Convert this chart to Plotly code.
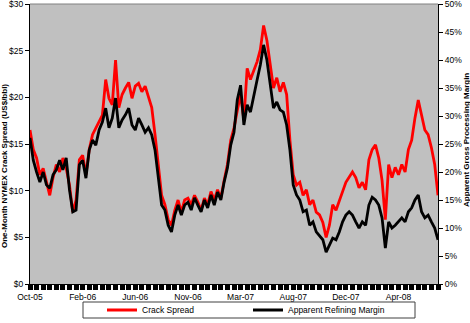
import plotly.graph_objects as go

# Category labels shown along the time axis (one every 16 observations)
month_labels = ["Oct-05", "Feb-06", "Jun-06", "Nov-06", "Mar-07", "Aug-07", "Dec-07", "Apr-08"]
label_positions = [0, 16, 32, 48, 64, 80, 96, 112]

# One-month NYMEX crack spread, US$/bbl
crack_spread = [
    16.5, 14.4, 13.5, 11.7, 12.4, 11.1, 9.5, 11.4, 12.8, 12.0,
    13.5, 12.4, 10.6, 7.7, 9.0, 13.3, 13.8, 11.7, 14.4, 16.0,
    16.7, 17.4, 18.1, 21.9, 19.9, 19.2, 24.0, 18.9, 20.3, 21.0,
    21.6, 19.9, 21.2, 21.5, 20.6, 21.2, 19.9, 18.9, 16.0, 12.8,
    9.5, 8.5, 6.9, 6.3, 7.9, 9.0, 7.7, 9.0, 9.2, 8.5,
    9.5, 8.8, 7.9, 9.2, 8.5, 9.9, 9.0, 10.1, 9.2, 11.1,
    12.8, 15.4, 16.7, 18.6, 20.3, 17.6, 23.1, 21.9, 22.9, 23.8,
    25.1, 27.7, 26.1, 23.5, 21.0, 22.1, 20.6, 21.6, 20.3, 15.4,
    11.7, 10.6, 10.9, 9.5, 10.1, 8.5, 9.0, 7.7, 7.4, 6.6,
    5.0, 6.3, 8.5, 7.9, 9.0, 9.9, 10.9, 11.4, 12.0, 11.4,
    10.3, 10.9, 10.1, 13.3, 14.4, 14.9, 13.5, 11.1, 6.9, 12.8,
    11.4, 12.5, 11.7, 12.8, 12.0, 14.4, 15.4, 17.8, 19.7, 18.1,
    16.5, 16.0, 14.6, 12.8, 9.5,
]

# Apparent refining (gross processing) margin, percent
refining_margin = [
    26.1, 22.1, 20.0, 18.2, 20.0, 17.7, 17.1, 19.5, 20.4, 22.1,
    20.4, 22.5, 16.8, 12.9, 13.2, 21.3, 22.1, 18.9, 23.9, 25.7,
    24.8, 27.5, 28.9, 31.4, 27.9, 29.6, 33.2, 27.9, 29.3, 30.2,
    31.4, 28.4, 27.5, 29.6, 28.4, 27.1, 27.9, 26.6, 23.9, 19.5,
    14.1, 13.2, 10.5, 9.3, 12.3, 14.1, 12.3, 14.1, 14.6, 13.2,
    15.4, 14.1, 12.9, 15.0, 13.6, 15.9, 14.1, 16.4, 15.0, 18.2,
    20.7, 24.8, 27.1, 32.9, 35.5, 28.4, 32.0, 30.7, 33.8, 36.4,
    39.1, 42.7, 40.0, 36.1, 31.4, 32.5, 31.1, 30.7, 28.4, 23.9,
    17.7, 15.9, 15.0, 12.9, 13.2, 10.5, 11.1, 9.3, 8.6, 7.9,
    5.7, 7.0, 8.2, 7.9, 9.3, 11.1, 12.3, 12.9, 12.3, 11.1,
    10.0, 11.1, 10.5, 14.1, 15.5, 15.0, 14.1, 11.8, 6.4, 11.1,
    10.0, 10.5, 11.1, 11.8, 11.1, 12.9, 13.6, 15.0, 15.9, 12.9,
    11.8, 12.3, 11.1, 10.0, 7.9,
]

x = list(range(len(crack_spread)))

fig = go.Figure()
fig.add_trace(go.Scatter(
    x=x, y=crack_spread, name="Crack Spread", mode="lines",
    line=dict(color="#FF0000", width=2.8), yaxis="y",
))
fig.add_trace(go.Scatter(
    x=x, y=refining_margin, name="Apparent Refining Margin", mode="lines",
    line=dict(color="#000000", width=2.8), yaxis="y2",
))

FONT = "Liberation Sans, Arial, sans-serif"

fig.update_layout(
    width=470, height=323,
    margin=dict(l=30, r=32, t=4, b=39, autoexpand=False),
    paper_bgcolor="white",
    plot_bgcolor="#C0C0C0",
    font=dict(family=FONT, size=8.5, color="black"),
    xaxis=dict(
        range=[0, 124],
        tickmode="array", tickvals=label_positions, ticktext=month_labels,
        ticks="outside", ticklen=5, tickwidth=5, tickcolor="black",
        minor=dict(tickmode="linear", tick0=0, dtick=2, ticks="outside",
                   ticklen=5, tickwidth=5, tickcolor="black", showgrid=False),
        showgrid=False, zeroline=False,
        showline=True, linecolor="black", linewidth=1,
        ticklabeloverflow="allow", automargin=False,
    ),
    yaxis=dict(
        range=[0, 30], dtick=5, tickprefix="$",
        ticks="outside", ticklen=4, tickcolor="black",
        showgrid=False, zeroline=False,
        showline=True, linecolor="black", linewidth=1,
        ticklabeloverflow="allow", automargin=False,
    ),
    yaxis2=dict(
        range=[0, 50], dtick=5, ticksuffix="%",
        overlaying="y", side="right",
        ticks="outside", ticklen=4, tickcolor="black",
        showgrid=False, zeroline=False,
        showline=True, linecolor="black", linewidth=1,
        ticklabeloverflow="allow", automargin=False,
    ),
    legend=dict(
        orientation="h",
        xref="container", yref="container",
        x=102 / 470, y=1 - 310 / 323,
        xanchor="left", yanchor="middle",
        bgcolor="rgba(0,0,0,0)", borderwidth=0,
        entrywidth=101,
        font=dict(family=FONT, size=8.5, color="black"),
    ),
    showlegend=True,
)

# Plot-area top border and legend frame
fig.add_shape(type="line", xref="paper", yref="paper",
              x0=0, x1=1, y0=1, y1=1, line=dict(color="#808080", width=1))
fig.add_shape(type="rect", xref="paper", yref="paper",
              x0=(83 - 30) / 408, x1=(415 - 30) / 408,
              y0=(284 - 318) / 280, y1=(284 - 302) / 280,
              line=dict(color="#404040", width=1), fillcolor="rgba(0,0,0,0)")

# Axis titles
fig.add_annotation(
    text="<b>One-Month NYMEX Crack Spread (US$/bbl)</b>",
    xref="paper", yref="paper", x=(5 - 30) / 408, y=(284 - 166) / 280,
    xanchor="center", yanchor="middle", textangle=-90, showarrow=False,
    font=dict(family=FONT, size=8, color="black"),
)
fig.add_annotation(
    text="<b>Apparent Gross Processing Margin</b>",
    xref="paper", yref="paper", x=1 + (466 - 438) / 408, y=(284 - 140) / 280,
    xanchor="center", yanchor="middle", textangle=-90, showarrow=False,
    font=dict(family=FONT, size=8, color="black"),
)

fig.write_html("out.html")
